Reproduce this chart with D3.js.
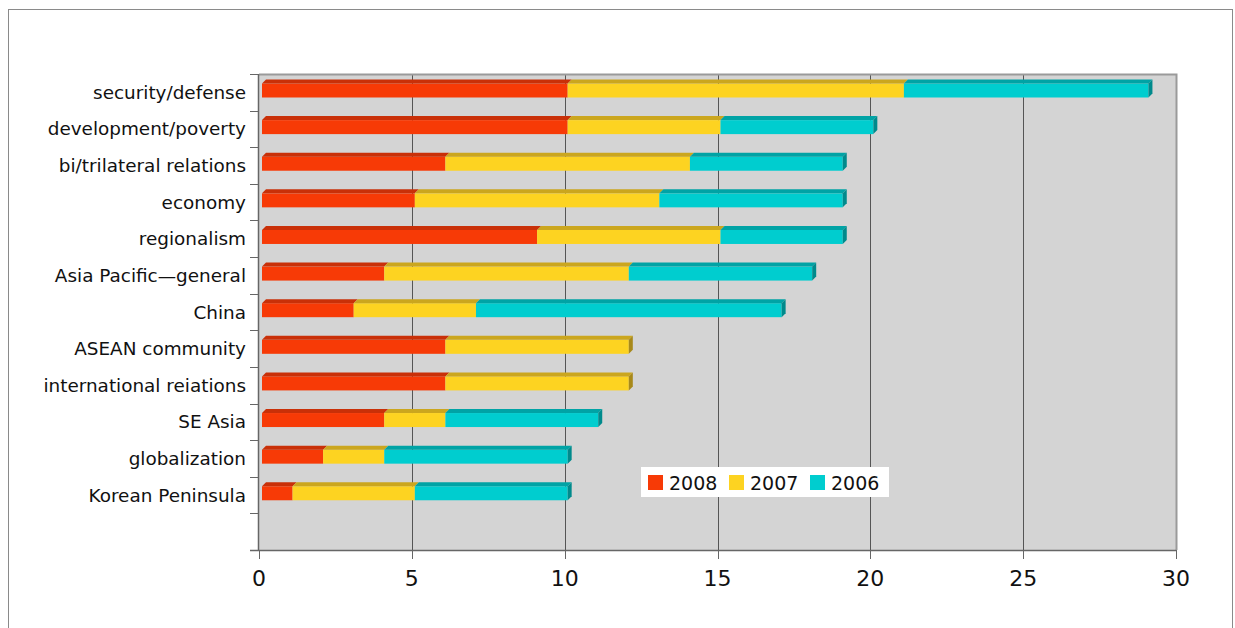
<!DOCTYPE html>
<html><head><meta charset="utf-8">
<script src="https://cdn.jsdelivr.net/npm/d3@7"></script>
<style>body{margin:0;background:#fff}svg{display:block;font-family:"DejaVu Sans",Verdana,sans-serif}</style>
</head><body><svg id="c" width="1235" height="628"></svg>
<script>
const categories = ["security/defense","development/poverty","bi/trilateral relations","economy","regionalism","Asia Pacific\u2014general","China","ASEAN community","international reiations","SE Asia","globalization","Korean Peninsula"];
const seriesNames = ["2008","2007","2006"];
const v2008 = [10,10,6,5,9,4,3,6,6,4,2,1];
const v2007 = [11,5,8,8,6,8,4,6,6,2,2,4];
const v2006 = [8,5,5,6,4,6,10,0,0,5,6,5];
const xTicks = [0,5,10,15,20,25,30];
const colors = ["#f73a06","#fdd321","#00cdcf"];
const topColors = ["#c93008","#cba61e","#00a3a5"];
const endColors = ["#b02a06","#a8891a","#008a8c"];

const svg = d3.select("#c");
svg.append("rect").attr("x",8.5).attr("y",9.5).attr("width",1224).attr("height",640).attr("fill","none").attr("stroke","#8a8a8a").attr("stroke-width",1);

const L=259, R=1176, T=74, B=550;
const nBands = categories.length + 1;
const bandH = (B-T)/nBands;
const x = d3.scaleLinear().domain([0,30]).range([L,R]);
const y = d3.scaleBand().domain(categories).range([T, B-bandH]).padding(0);

svg.append("rect").attr("x",L).attr("y",T).attr("width",R-L).attr("height",B-T).attr("fill","#d4d4d4");
svg.append("g").selectAll("line").data(xTicks.filter(d=>d>0&&d<30)).join("line")
  .attr("x1",d=>Math.round(x(d))+0.5).attr("x2",d=>Math.round(x(d))+0.5).attr("y1",T).attr("y2",B)
  .attr("stroke","#555").attr("stroke-width",1);
svg.append("path").attr("d",`M${L},${T+0.5}H${R+0.5}V${B}`).attr("fill","none").attr("stroke","#9a9a9a").attr("stroke-width",2);

const off = 3, dep = 4;
const rows = categories.map((c,i)=>({c, vals:[v2008[i],v2007[i],v2006[i]]}));
const g = svg.append("g");
rows.forEach(r=>{
  const y0 = y(r.c) + 9.5, h = 14;
  let cum = 0;
  let lastEnd = null, lastIdx = 0;
  r.vals.forEach((v,k)=>{
    if(v<=0) return;
    const xa = x(cum)+off, xb = x(cum+v)+off;
    g.append("rect").attr("x",xa).attr("y",y0).attr("width",xb-xa).attr("height",h).attr("fill",colors[k]);
    g.append("path").attr("d",`M${xa},${y0}L${xa+dep},${y0-dep}L${xb+dep},${y0-dep}L${xb},${y0}Z`).attr("fill",topColors[k]);
    cum += v; lastEnd = xb; lastIdx = k;
  });
  g.append("path").attr("d",`M${lastEnd},${y0}L${lastEnd+dep},${y0-dep}L${lastEnd+dep},${y0+h-dep}L${lastEnd},${y0+h}Z`).attr("fill",endColors[lastIdx]);
});

const ya = svg.append("g");
ya.append("line").attr("x1",L-0.5).attr("x2",L-0.5).attr("y1",T).attr("y2",B).attr("stroke","#666").attr("stroke-width",1.5);
d3.range(nBands+1).forEach(i=>{
  const yy = Math.round(T+i*bandH)+0.5;
  ya.append("line").attr("x1",L-9).attr("x2",L).attr("y1",yy).attr("y2",yy).attr("stroke","#666").attr("stroke-width",1);
});
ya.selectAll("text").data(categories).join("text")
  .attr("x",246).attr("y",d=>y(d)+y.bandwidth()/2+6.5)
  .attr("text-anchor","end").attr("font-size",18.4).attr("fill","#111").text(d=>d);

const xa = svg.append("g");
xa.append("line").attr("x1",L-9).attr("x2",R).attr("y1",B+0.5).attr("y2",B+0.5).attr("stroke","#666").attr("stroke-width",1.5);
xTicks.forEach(t=>{
  xa.append("line").attr("x1",Math.round(x(t))+0.5).attr("x2",Math.round(x(t))+0.5).attr("y1",B).attr("y2",B+9).attr("stroke","#666");
  xa.append("text").attr("x",x(t)).attr("y",B+36).attr("text-anchor","middle").attr("font-size",22).attr("fill","#111").text(t);
});

const lg = svg.append("g");
lg.append("rect").attr("x",641).attr("y",467).attr("width",248).attr("height",30).attr("fill","#fff");
const lx = [648,729,810];
seriesNames.forEach((s,k)=>{
  lg.append("rect").attr("x",lx[k]).attr("y",475).attr("width",15).attr("height",15).attr("fill",colors[k]);
  lg.append("text").attr("x",lx[k]+21).attr("y",489.5).attr("font-size",19).attr("fill","#111").text(s);
});
</script></body></html>
